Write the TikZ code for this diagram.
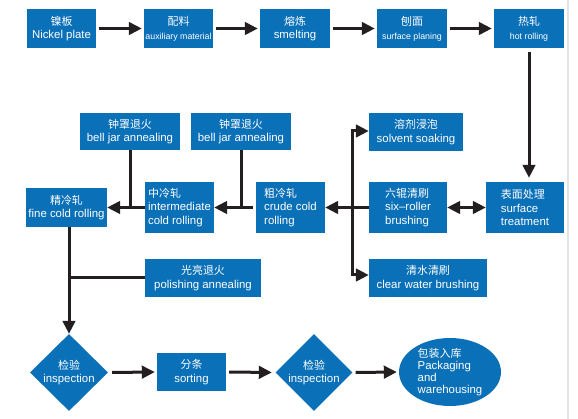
\documentclass[tikz,border=0pt]{standalone}
\usepackage{fontspec}
\setmainfont{Liberation Sans}
\newfontfamily\cjk[Scale=0.96]{Noto Sans CJK SC}
\usetikzlibrary{arrows.meta,shapes.geometric}
\definecolor{boxblue}{RGB}{10,112,184}
\definecolor{ink}{RGB}{35,31,32}
\definecolor{edgegray}{RGB}{228,228,228}
\newcommand\fsmain{\fontsize{11.4}{13.8}\selectfont\lineskiplimit=-20pt\relax}
\newcommand\fspack{\fontsize{11.4}{12}\selectfont\lineskiplimit=-20pt\relax}
\newcommand\fssmall{\fontsize{8.8}{11}\selectfont}
\begin{document}
\begin{tikzpicture}[x=1pt,y=-1pt,
  box/.style={fill=boxblue,text=white,inner sep=0pt,align=center,font=\fsmain},
  sz/.style 2 args={minimum width=#1pt,minimum height=#2pt},
  arr/.style={draw=ink,line width=3pt,-{Triangle[length=13pt,width=12.5pt]}},
  arrb/.style={draw=ink,line width=3pt,{Triangle[length=13pt,width=12.5pt]}-{Triangle[length=13pt,width=12.5pt]}},
  ln/.style={draw=ink,line width=3pt}]
\useasboundingbox (0,0) rectangle (578,419);
\fill[white] (0,0) rectangle (578,419);
\draw[edgegray,line width=1.5pt] (568,0) -- (568,419);

% top row
\node[box,sz={69}{39}] (n1) at (61.5,28.5) {{\cjk 镍板}\\Nickel plate};
\node[box,sz={69}{39}] (n2) at (178.5,28.5) {{\cjk 配料}\\{\fssmall auxiliary material}};
\node[box,sz={70}{39}] (n3) at (295,28.5) {{\cjk 熔炼}\\smelting};
\node[box,sz={70}{39}] (n4) at (412,28.5) {{\cjk 刨面}\\{\fssmall surface planing}};
\node[box,sz={70}{39}] (n5) at (529,28.5) {{\cjk 热轧}\\{\fssmall hot rolling}};

% middle
\node[box,sz={78}{51},align=left] (st) at (525,207.5) {{\cjk 表面处理}\\surface\\treatment};
\node[box,sz={78}{51},align=left] (six) at (408,207.5) {{\cjk 六辊清刷}\\six–roller\\brushing};
\node[box,sz={94}{38}] (solv) at (416,132) {{\cjk 溶剂浸泡}\\solvent soaking};
\node[box,sz={118}{38}] (clear) at (428,278) {{\cjk 清水清刷}\\clear water brushing};
\node[box,sz={69}{51},align=left] (crude) at (290.5,207.5) {{\cjk 粗冷轧}\\crude cold\\rolling};
\node[box,sz={69}{51},align=left] (inter) at (179.5,207.5) {{\cjk 中冷轧}\\intermediate\\cold rolling};
\node[box,sz={81}{39}] (fine) at (66.5,207.5) {{\cjk 精冷轧}\\fine cold rolling};
\node[box,sz={100}{37}] (bell1) at (130,131.5) {{\cjk 钟罩退火}\\bell jar annealing};
\node[box,sz={100}{37}] (bell2) at (241,131.5) {{\cjk 钟罩退火}\\bell jar annealing};
\node[box,sz={116}{38}] (pol) at (203,278) {{\cjk 光亮退火}\\polishing annealing};

% bottom row
\node[box,shape=diamond,aspect=1,sz={78}{77}] (d1) at (69,372.5) {{\cjk 检验}\\inspection};
\node[box,sz={69}{38}] (sort) at (191.5,372) {{\cjk 分条}\\sorting};
\node[box,shape=diamond,aspect=1,sz={77}{77}] (d2) at (314,372.5) {{\cjk 检验}\\inspection};
\node[box,shape=ellipse,sz={102}{68},align=left,font=\fspack] (pack) at (450,372) {{\cjk 包装入库}\\Packaging\\and\\warehousing};

\coordinate (vt) at (352,131);
\coordinate (vb) at (352,275);

% connectors
\draw[arr,shorten <=2.5pt,shorten >=2pt] (n1) -- (n2);
\draw[arr,shorten <=2.5pt,shorten >=2pt] (n2) -- (n3);
\draw[arr,shorten <=2.5pt,shorten >=2pt] (n3) -- (n4);
\draw[arr,shorten <=2.5pt,shorten >=2pt] (n4) -- (n5);
\draw[arr,shorten <=4pt,shorten >=4pt] (n5.south) -- (n5.south |- st.north);
\draw[arrb] (six.east) -- (st.west);
\draw[arr] (six.west) -- (crude.east);
\draw[arrb] (vt -| solv.west) -- (vt) -- (vb) -- (vb -| clear.west);
\draw[arr,shorten <=3pt] (crude.west) -- (inter.east);
\draw[arr] (inter.west) -- (fine.east);
\draw[ln] (bell1.south) -- (bell1.south |- inter.west);
\draw[ln] (bell2.south) -- (bell2.south |- inter.west);
\draw[arr] (fine.south -| d1.north) -- (d1.north);
\draw[ln] (pol.west) -- (pol.west -| d1.north);
\draw[arr,shorten <=4pt,shorten >=2pt] (d1.east) -- (sort.west);
\draw[arr,shorten <=3pt,shorten >=3.5pt] (sort.east) -- (d2.west);
\draw[arr,shorten <=3pt,shorten >=2pt] (d2.east) -- (pack.west);
\end{tikzpicture}
\end{document}
